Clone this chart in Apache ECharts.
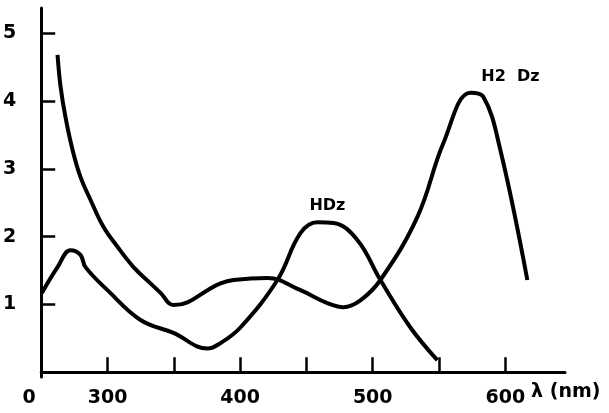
<!DOCTYPE html>
<html>
<head>
<meta charset="utf-8">
<script src="https://cdn.jsdelivr.net/npm/echarts@6/dist/echarts.min.js"></script>
<style>
  html, body { margin: 0; padding: 0; background: #fff; }
  #chart { width: 609px; height: 413px; }
</style>
</head>
<body>
<div id="chart"></div>
<script>
// wavelength (nm) and absorbance
const h2dzX = [262.3, 264.6, 268.3, 273.6, 279.6, 287.2, 297, 307.5, 319.6, 332.4, 340, 349.7, 360.3, 375.4, 385.2, 395, 420.6, 445.5, 465.8, 477.9, 490.7, 505.8, 533.7, 553.3, 573.6, 583.4, 596.2, 616.6];
const h2dzY = [4.68, 4.21, 3.76, 3.28, 2.88, 2.54, 2.14, 1.85, 1.55, 1.31, 1.17, 0.99, 1.03, 1.21, 1.31, 1.36, 1.39, 1.21, 1.02, 0.96, 1.06, 1.36, 2.29, 3.38, 4.12, 4.06, 3.28, 1.36];

const hdzX = [250.5, 262.3, 272.1, 279.6, 283.4, 300, 324.9, 349.7, 375.4, 385.2, 400.2, 428.1, 445.5, 458.3, 470.4, 488.4, 505.8, 528.4, 548.7];
const hdzY = [1.17, 1.55, 1.80, 1.73, 1.55, 1.21, 0.77, 0.58, 0.35, 0.43, 0.66, 1.36, 2.05, 2.21, 2.20, 1.95, 1.36, 0.66, 0.18];

const xTicks = [300, 350, 400, 450, 500, 550, 600];
const xLabels = [250, 300, 400, 500, 600];
const yTicks = [1, 2, 3, 4, 5];

const font = 'DejaVu Sans';

function pairs(xs, ys) {
  return xs.map((x, i) => [x, ys[i]]);
}

const chart = echarts.init(document.getElementById('chart'));

chart.setOption({
  animation: false,
  backgroundColor: '#fff',
  grid: {left: 41, right: 44, top: 8, bottom: 36},
  xAxis: {
    type: 'value',
    min: 250,
    max: 645,
    name: 'λ (nm)',
    nameLocation: 'end',
    nameGap: -40,
    nameTextStyle: {
      color: '#000', fontFamily: font, fontWeight: 'bold', fontSize: 19,
      align: 'left', verticalAlign: 'top', padding: [10, 0, 0, 0]
    },
    splitLine: {show: false},
    axisLine: {lineStyle: {color: '#000', width: 3}},
    axisTick: {
      inside: true, length: 15, customValues: xTicks,
      lineStyle: {color: '#000', width: 2.5}
    },
    axisLabel: {
      customValues: xLabels,
      margin: 12,
      color: '#000', fontFamily: font, fontWeight: 'bold', fontSize: 19,
      formatter: v => v === 250 ? '{z|0}' : String(v),
      rich: {
        z: {color: '#000', fontFamily: font, fontWeight: 'bold', fontSize: 19, padding: [0, 24, 0, 0]}
      }
    }
  },
  yAxis: {
    type: 'value',
    min: -0.07,
    max: 5.37,
    splitLine: {show: false},
    axisLine: {lineStyle: {color: '#000', width: 3}},
    axisTick: {
      inside: true, length: 14, customValues: yTicks,
      lineStyle: {color: '#000', width: 2.5}
    },
    axisLabel: {
      customValues: yTicks,
      margin: 25,
      color: '#000', fontFamily: font, fontWeight: 'bold', fontSize: 19
    }
  },
  series: [
    {
      name: 'H2 Dz',
      type: 'line',
      smooth: 0.4,
      showSymbol: false,
      data: pairs(h2dzX, h2dzY),
      lineStyle: {color: '#000', width: 4},
      markPoint: {
        symbol: 'circle', symbolSize: 0,
        label: {show: true, position: 'inside', color: '#000', fontFamily: font, fontWeight: 'bold', fontSize: 16, formatter: 'H2  Dz'},
        data: [{coord: [603.8, 4.35]}]
      }
    },
    {
      name: 'HDz',
      type: 'line',
      smooth: 0.4,
      showSymbol: false,
      data: pairs(hdzX, hdzY),
      lineStyle: {color: '#000', width: 4},
      markPoint: {
        symbol: 'circle', symbolSize: 0,
        label: {show: true, position: 'inside', color: '#000', fontFamily: font, fontWeight: 'bold', fontSize: 16, formatter: 'HDz'},
        data: [{coord: [465.8, 2.46]}]
      }
    }
  ]
});
</script>
</body>
</html>
